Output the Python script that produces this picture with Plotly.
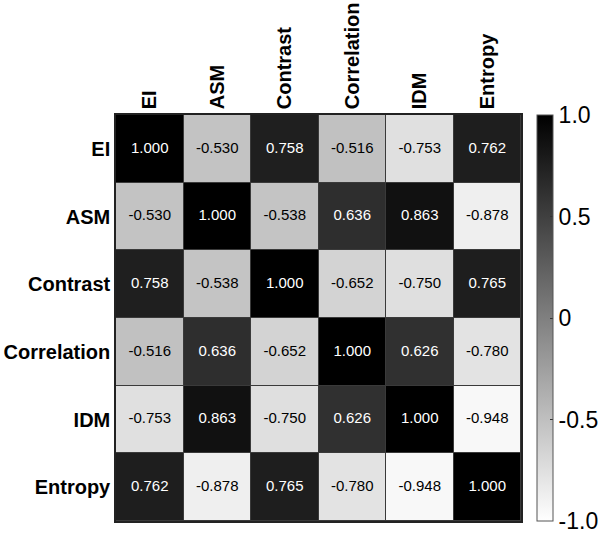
import plotly.graph_objects as go

labels = ["EI", "ASM", "Contrast", "Correlation", "IDM", "Entropy"]
row_EI = [1.000, -0.530, 0.758, -0.516, -0.753, 0.762]
row_ASM = [-0.530, 1.000, -0.538, 0.636, 0.863, -0.878]
row_Contrast = [0.758, -0.538, 1.000, -0.652, -0.750, 0.765]
row_Correlation = [-0.516, 0.636, -0.652, 1.000, 0.626, -0.780]
row_IDM = [-0.753, 0.863, -0.750, 0.626, 1.000, -0.948]
row_Entropy = [0.762, -0.878, 0.765, -0.780, -0.948, 1.000]
cbar_vals = [-1, -0.5, 0, 0.5, 1]
cbar_text = ["-1.0", "-0.5", "0", "0.5", "1.0"]

z = [row_EI, row_ASM, row_Contrast, row_Correlation, row_IDM, row_Entropy]
FONT = "Liberation Sans, Arial, sans-serif"

fig = go.Figure(go.Heatmap(
    z=z, x=labels, y=labels,
    zmin=-1, zmax=1,
    colorscale=[[0, "#ffffff"], [1, "#000000"]],
    xgap=1, ygap=1,
    hoverinfo="z",
    colorbar=dict(
        x=1.04, xanchor="left", xpad=0,
        y=1, yanchor="top", len=1, lenmode="fraction", ypad=0,
        thickness=16, thicknessmode="pixels",
        outlinewidth=1, outlinecolor="#555555",
        tickvals=cbar_vals, ticktext=cbar_text,
        ticks="inside", ticklen=3, tickcolor="#333333",
        ticklabeloverflow="allow",
        tickfont=dict(family=FONT, size=23, color="#000000"),
    ),
))

# cell value labels
tx, ty, tt, tc = [], [], [], []
for i, rl in enumerate(labels):
    for j, cl in enumerate(labels):
        v = z[i][j]
        tx.append(cl)
        ty.append(rl)
        tt.append(f"{v:.3f}")
        tc.append("#ffffff" if v > 0 else "#000000")

fig.add_trace(go.Scatter(
    x=tx, y=ty, mode="text", text=tt,
    textfont=dict(family=FONT, size=15, color=tc),
    hoverinfo="skip", showlegend=False,
))

fig.update_xaxes(
    side="top", tickangle=-90, showgrid=False, zeroline=False,
    tickfont=dict(family=FONT, size=20, color="#000000", weight="bold"),
    showline=True, mirror=True, linecolor="#222222", linewidth=1.5,
    ticks="", automargin=False,
)
fig.update_yaxes(
    autorange="reversed", showgrid=False, zeroline=False,
    tickfont=dict(family=FONT, size=20, color="#000000", weight="bold"),
    showline=True, mirror=True, linecolor="#222222", linewidth=1.5,
    ticks="", automargin=False,
)

fig.update_layout(
    width=601, height=533,
    margin=dict(l=116, r=80, t=115, b=12, autoexpand=False),
    paper_bgcolor="white", plot_bgcolor="#3a3a3a",
    font=dict(family=FONT),
)

fig.write_html("out.html", config={"displayModeBar": False},
               post_script="document.body.style.margin='0';")
